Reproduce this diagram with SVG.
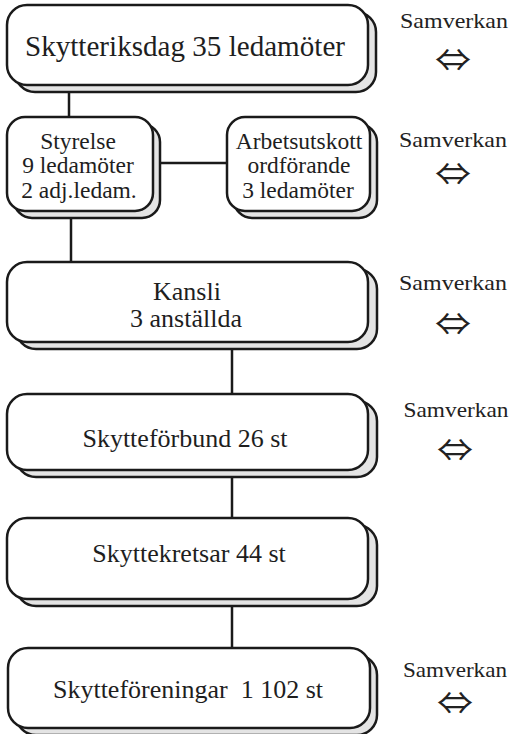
<svg xmlns="http://www.w3.org/2000/svg" width="510" height="734" viewBox="0 0 510 734">
<style>
.sh{fill:#e4e4e4;stroke:#1a1a1a;stroke-width:2.5}
.bx{fill:#fff;stroke:#1a1a1a;stroke-width:2.5}
.t{font-family:"Liberation Serif","Times New Roman",serif;fill:#1e1e1e;text-anchor:middle}
.ln{stroke:#1a1a1a;stroke-width:2.5;fill:none}
.sv{font-family:"Liberation Serif","Times New Roman",serif;font-size:22px;fill:#222;text-anchor:middle}
.ar{font-family:"Noto Sans CJK JP","Noto Sans CJK SC","DejaVu Sans",sans-serif;font-size:31px;fill:#222;text-anchor:middle}
</style>
<rect width="510" height="734" fill="#fff"/>
<g id="connectors">
<line class="ln" x1="69" y1="90" x2="69" y2="117"/>
<line class="ln" x1="161" y1="163" x2="227" y2="163"/>
<line class="ln" x1="71" y1="216" x2="71" y2="262"/>
<line class="ln" x1="232" y1="347" x2="232" y2="394"/>
<line class="ln" x1="232" y1="476" x2="232" y2="518"/>
<line class="ln" x1="232" y1="605" x2="232" y2="648"/>
</g>
<g id="riksdag">
<rect class="sh" x="15" y="12" width="361" height="80" rx="20"/>
<rect class="bx" x="7" y="5" width="361" height="80" rx="20"/>
<text class="t" x="185" y="56" font-size="29" textLength="320" lengthAdjust="spacingAndGlyphs">Skytteriksdag 35 ledamöter</text>
</g>
<g id="styrelse">
<rect class="sh" x="14" y="124" width="146" height="94" rx="18"/>
<rect class="bx" x="7" y="117" width="146" height="94" rx="18"/>
<text class="t" font-size="23.5"><tspan x="78" y="149">Styrelse</tspan><tspan x="78" y="173">9 ledamöter</tspan><tspan x="79" y="198">2 adj.ledam.</tspan></text>
</g>
<g id="arbetsutskott">
<rect class="sh" x="234" y="124" width="143" height="94" rx="18"/>
<rect class="bx" x="227" y="117" width="143" height="94" rx="18"/>
<text class="t" font-size="23.5"><tspan x="299" y="149">Arbetsutskott</tspan><tspan x="299" y="173">ordförande</tspan><tspan x="298" y="198">3 ledamöter</tspan></text>
</g>
<g id="kansli">
<rect class="sh" x="16" y="269" width="361" height="80" rx="20"/>
<rect class="bx" x="7" y="262" width="361" height="80" rx="20"/>
<text class="t" font-size="26"><tspan x="187" y="300">Kansli</tspan><tspan x="186" y="327">3 anställda</tspan></text>
</g>
<g id="forbund">
<rect class="sh" x="16" y="401" width="361" height="76" rx="20"/>
<rect class="bx" x="7" y="394" width="361" height="76" rx="20"/>
<text class="t" x="185" y="447" font-size="26">Skytteförbund 26 st</text>
</g>
<g id="kretsar">
<rect class="sh" x="16" y="525" width="361" height="81" rx="20"/>
<rect class="bx" x="7" y="518" width="361" height="81" rx="20"/>
<text class="t" x="189" y="562" font-size="26">Skyttekretsar 44 st</text>
</g>
<g id="foreningar">
<rect class="sh" x="16" y="655" width="361" height="80" rx="20"/>
<rect class="bx" x="8" y="648" width="362" height="80" rx="20"/>
<text class="t" x="188" y="698" font-size="26" xml:space="preserve">Skytteföreningar  1 102 st</text>
</g>
<g id="samverkan">
<text class="sv" x="454" y="28" textLength="108" lengthAdjust="spacingAndGlyphs">Samverkan</text>
<text class="ar" x="453" y="71" textLength="36" lengthAdjust="spacingAndGlyphs">⇔</text>
<text class="sv" x="453" y="147" textLength="108" lengthAdjust="spacingAndGlyphs">Samverkan</text>
<text class="ar" x="453" y="185" textLength="36" lengthAdjust="spacingAndGlyphs">⇔</text>
<text class="sv" x="453" y="290" textLength="108" lengthAdjust="spacingAndGlyphs">Samverkan</text>
<text class="ar" x="453" y="335" textLength="36" lengthAdjust="spacingAndGlyphs">⇔</text>
<text class="sv" x="456" y="417" textLength="105" lengthAdjust="spacingAndGlyphs">Samverkan</text>
<text class="ar" x="455" y="461" textLength="36" lengthAdjust="spacingAndGlyphs">⇔</text>
<text class="sv" x="455" y="677" textLength="104" lengthAdjust="spacingAndGlyphs">Samverkan</text>
<text class="ar" x="455" y="714" textLength="36" lengthAdjust="spacingAndGlyphs">⇔</text>
</g>
</svg>
